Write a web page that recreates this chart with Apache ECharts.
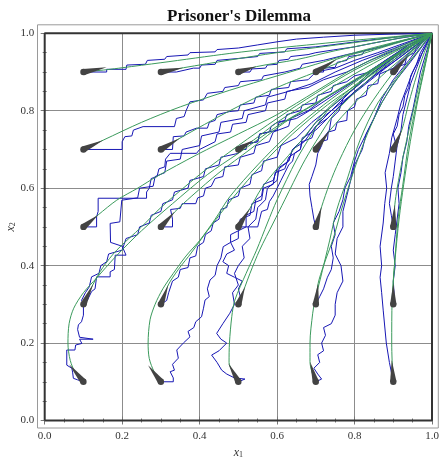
<!DOCTYPE html>
<html><head><meta charset="utf-8">
<script src="https://cdn.jsdelivr.net/npm/echarts@6/dist/echarts.min.js"></script>
<style>html,body{margin:0;padding:0;background:#fff}#c{width:440px;height:458px}</style>
</head><body><div id="c"></div>
<script>
const titleText = "Prisoner's Dilemma";
const tickValues = [0, 0.2, 0.4, 0.6, 0.8, 1.0];

// arrow tails (start points) and tips
const arrowTail = [[0.1,0.1],[0.3,0.1],[0.5,0.1],[0.7,0.1],[0.9,0.1],
  [0.1,0.3],[0.3,0.3],[0.5,0.3],[0.7,0.3],[0.9,0.3],
  [0.1,0.5],[0.3,0.5],[0.5,0.5],[0.7,0.5],[0.9,0.5],
  [0.1,0.7],[0.3,0.7],[0.5,0.7],[0.7,0.7],[0.9,0.7],
  [0.1,0.9],[0.3,0.9],[0.5,0.9],[0.7,0.9],[0.9,0.9]];
const arrowTip = [[0.063,0.145],[0.267,0.143],[0.474,0.148],[0.685,0.152],[0.896,0.156],
  [0.125,0.352],[0.319,0.35],[0.517,0.345],[0.706,0.354],[0.9,0.354],
  [0.138,0.531],[0.336,0.539],[0.53,0.548],[0.715,0.552],[0.904,0.557],
  [0.151,0.724],[0.349,0.729],[0.539,0.724],[0.737,0.75],[0.922,0.75],
  [0.16,0.912],[0.358,0.911],[0.547,0.914],[0.754,0.933],[0.939,0.944]];

// deterministic (green) trajectories
const g11 = [[0.1,0.1],[0.08,0.122],[0.066,0.155],[0.06,0.2],[0.063,0.25],[0.075,0.29],[0.1,0.33],[0.134,0.368],[0.182,0.422],[0.25,0.49],[0.33,0.56],[0.42,0.635],[0.5,0.69],[0.6,0.76],[0.7,0.82],[0.8,0.88],[0.9,0.94],[1,1]];
const g13 = [[0.1,0.3],[0.125,0.352],[0.15,0.395],[0.186,0.44],[0.25,0.5],[0.3,0.55],[0.4,0.635],[0.5,0.71],[0.6,0.78],[0.7,0.845],[0.8,0.905],[0.9,0.953],[1,1]];
const g15 = [[0.1,0.5],[0.138,0.531],[0.186,0.569],[0.24,0.6],[0.289,0.63],[0.392,0.686],[0.5,0.74],[0.6,0.79],[0.7,0.85],[0.8,0.91],[0.9,0.958],[1,1]];
const g17 = [[0.1,0.7],[0.151,0.724],[0.25,0.77],[0.35,0.81],[0.478,0.853],[0.6,0.89],[0.7,0.92],[0.8,0.95],[0.9,0.976],[1,1]];
const g19 = [[0.1,0.9],[0.16,0.906],[0.2,0.911],[0.3,0.924],[0.478,0.948],[0.6,0.962],[0.7,0.972],[0.8,0.982],[0.9,0.991],[1,1]];
const g31 = [[0.3,0.1],[0.283,0.125],[0.27,0.16],[0.267,0.2],[0.272,0.26],[0.285,0.3],[0.305,0.34],[0.332,0.38],[0.365,0.425],[0.401,0.466],[0.44,0.52],[0.478,0.578],[0.55,0.66],[0.63,0.74],[0.72,0.815],[0.81,0.88],[0.9,0.938],[1,1]];
const g33 = [[0.3,0.3],[0.319,0.35],[0.345,0.39],[0.38,0.435],[0.42,0.49],[0.49,0.58],[0.56,0.66],[0.64,0.74],[0.73,0.815],[0.82,0.877],[0.91,0.937],[1,1]];
const g35 = [[0.3,0.5],[0.336,0.539],[0.38,0.58],[0.45,0.64],[0.53,0.7],[0.62,0.77],[0.72,0.83],[0.82,0.89],[0.91,0.945],[1,1]];
const g37 = [[0.3,0.7],[0.349,0.729],[0.478,0.8],[0.6,0.86],[0.7,0.9],[0.8,0.94],[0.9,0.972],[1,1]];
const g39 = [[0.3,0.9],[0.358,0.911],[0.478,0.931],[0.6,0.95],[0.7,0.963],[0.8,0.976],[0.9,0.989],[1,1]];
const g51 = [[0.5,0.1],[0.486,0.125],[0.476,0.15],[0.477,0.2],[0.483,0.268],[0.491,0.311],[0.52,0.38],[0.547,0.44],[0.575,0.51],[0.6,0.57],[0.65,0.673],[0.68,0.724],[0.73,0.8],[0.8,0.86],[0.88,0.925],[0.95,0.97],[1,1]];
const g53 = [[0.5,0.3],[0.517,0.345],[0.53,0.38],[0.555,0.44],[0.59,0.51],[0.62,0.57],[0.665,0.66],[0.7,0.72],[0.75,0.795],[0.82,0.865],[0.9,0.935],[1,1]];
const g55 = [[0.5,0.5],[0.53,0.548],[0.56,0.6],[0.6,0.65],[0.66,0.72],[0.73,0.805],[0.81,0.873],[0.9,0.942],[1,1]];
const g57 = [[0.5,0.7],[0.539,0.724],[0.6,0.77],[0.7,0.835],[0.8,0.895],[0.9,0.95],[1,1]];
const g59 = [[0.5,0.9],[0.547,0.914],[0.65,0.932],[0.75,0.955],[0.85,0.975],[0.93,0.99],[1,1]];
const g71 = [[0.7,0.1],[0.69,0.125],[0.685,0.152],[0.685,0.2],[0.692,0.277],[0.698,0.311],[0.711,0.363],[0.736,0.466],[0.754,0.544],[0.78,0.62],[0.814,0.724],[0.86,0.82],[0.92,0.9],[0.96,0.95],[1,1]];
const g73 = [[0.7,0.3],[0.706,0.354],[0.72,0.4],[0.745,0.47],[0.765,0.54],[0.79,0.62],[0.825,0.72],[0.87,0.82],[0.93,0.91],[1,1]];
const g75 = [[0.7,0.5],[0.715,0.552],[0.735,0.61],[0.76,0.67],[0.8,0.75],[0.85,0.83],[0.91,0.91],[1,1]];
const g77 = [[0.7,0.7],[0.737,0.75],[0.8,0.82],[0.87,0.89],[0.94,0.95],[1,1]];
const g79 = [[0.7,0.9],[0.754,0.933],[0.85,0.96],[0.92,0.98],[1,1]];
const g91 = [[0.9,0.1],[0.897,0.156],[0.896,0.2],[0.897,0.311],[0.903,0.397],[0.913,0.526],[0.924,0.604],[0.941,0.724],[0.96,0.82],[0.98,0.91],[1,1]];
const g93 = [[0.9,0.3],[0.9,0.354],[0.905,0.42],[0.915,0.52],[0.927,0.61],[0.944,0.72],[0.962,0.82],[0.981,0.91],[1,1]];
const g95 = [[0.9,0.5],[0.904,0.557],[0.91,0.6],[0.925,0.68],[0.945,0.77],[0.965,0.86],[0.985,0.94],[1,1]];
const g97 = [[0.9,0.7],[0.922,0.75],[0.94,0.82],[0.96,0.89],[0.98,0.95],[1,1]];
const g99 = [[0.9,0.9],[0.939,0.944],[0.97,0.975],[1,1]];

// stochastic (blue) trajectories
const b11 = [[0.1,0.1],[0.085,0.105],[0.074,0.109],[0.072,0.125],[0.07,0.135],[0.057,0.143],[0.057,0.182],[0.078,0.182],[0.08,0.195],[0.096,0.199],[0.09,0.21],[0.125,0.21],[0.09,0.215],[0.085,0.235],[0.087,0.247],[0.095,0.255],[0.1,0.272],[0.1,0.303],[0.095,0.31],[0.105,0.33],[0.115,0.345],[0.121,0.371],[0.14,0.38],[0.145,0.4],[0.16,0.41],[0.165,0.43],[0.2,0.44],[0.21,0.47],[0.24,0.48],[0.245,0.5],[0.27,0.51],[0.275,0.53],[0.3,0.54],[0.305,0.56],[0.33,0.57],[0.335,0.59],[0.37,0.6],[0.375,0.62],[0.41,0.63],[0.415,0.65],[0.45,0.66],[0.455,0.68],[0.5,0.69],[0.505,0.71],[0.55,0.72],[0.555,0.74],[0.6,0.75],[0.605,0.77],[0.65,0.78],[0.7,0.81],[0.76,0.85],[0.82,0.89],[0.88,0.93],[0.94,0.97],[1,1]];
const b13 = [[0.1,0.3],[0.11,0.31],[0.121,0.333],[0.13,0.34],[0.134,0.371],[0.169,0.371],[0.169,0.384],[0.18,0.39],[0.182,0.427],[0.21,0.427],[0.2,0.45],[0.17,0.46],[0.169,0.509],[0.194,0.513],[0.199,0.569],[0.24,0.575],[0.245,0.6],[0.28,0.605],[0.285,0.63],[0.31,0.64],[0.315,0.67],[0.35,0.675],[0.355,0.7],[0.4,0.71],[0.405,0.735],[0.45,0.745],[0.455,0.77],[0.51,0.78],[0.515,0.8],[0.57,0.815],[0.575,0.835],[0.63,0.85],[0.69,0.87],[0.75,0.9],[0.82,0.93],[0.9,0.96],[1,1]];
const b15 = [[0.1,0.5],[0.134,0.5],[0.134,0.526],[0.138,0.54],[0.138,0.574],[0.2,0.574],[0.263,0.574],[0.263,0.59],[0.27,0.6],[0.275,0.625],[0.29,0.63],[0.295,0.65],[0.31,0.655],[0.312,0.675],[0.324,0.69],[0.392,0.69],[0.4,0.7],[0.44,0.72],[0.445,0.74],[0.48,0.745],[0.485,0.765],[0.52,0.77],[0.525,0.79],[0.57,0.8],[0.575,0.82],[0.62,0.83],[0.625,0.85],[0.68,0.86],[0.72,0.88],[0.78,0.9],[0.84,0.93],[0.9,0.955],[0.95,0.975],[1,1]];
const b17 = [[0.1,0.7],[0.2,0.7],[0.2,0.72],[0.207,0.733],[0.225,0.735],[0.229,0.75],[0.254,0.759],[0.335,0.759],[0.34,0.78],[0.36,0.785],[0.365,0.8],[0.375,0.823],[0.41,0.828],[0.42,0.845],[0.46,0.85],[0.465,0.86],[0.5,0.865],[0.505,0.875],[0.56,0.88],[0.565,0.89],[0.62,0.9],[0.66,0.91],[0.665,0.92],[0.72,0.93],[0.78,0.945],[0.85,0.96],[0.92,0.98],[1,1]];
const b19 = [[0.1,0.9],[0.16,0.9],[0.16,0.907],[0.21,0.907],[0.212,0.918],[0.26,0.92],[0.265,0.93],[0.31,0.933],[0.315,0.94],[0.37,0.944],[0.375,0.95],[0.44,0.952],[0.445,0.958],[0.5,0.962],[0.55,0.97],[0.6,0.978],[0.65,0.985],[0.72,0.99],[0.8,0.995],[0.9,0.998],[1,1]];
const b31 = [[0.3,0.1],[0.332,0.1],[0.332,0.11],[0.324,0.126],[0.335,0.13],[0.33,0.145],[0.345,0.161],[0.341,0.182],[0.358,0.2],[0.375,0.216],[0.37,0.23],[0.385,0.24],[0.39,0.255],[0.405,0.268],[0.41,0.29],[0.414,0.311],[0.425,0.32],[0.42,0.34],[0.427,0.363],[0.44,0.375],[0.445,0.4],[0.455,0.42],[0.461,0.449],[0.48,0.46],[0.48,0.48],[0.5,0.49],[0.505,0.52],[0.53,0.53],[0.535,0.56],[0.56,0.57],[0.565,0.6],[0.59,0.61],[0.595,0.64],[0.62,0.65],[0.63,0.68],[0.66,0.7],[0.665,0.73],[0.7,0.75],[0.74,0.79],[0.78,0.83],[0.83,0.87],[0.88,0.91],[0.94,0.955],[1,1]];
const b33 = [[0.3,0.3],[0.315,0.31],[0.32,0.33],[0.33,0.36],[0.345,0.37],[0.35,0.39],[0.37,0.395],[0.375,0.42],[0.39,0.425],[0.395,0.45],[0.41,0.46],[0.415,0.48],[0.43,0.49],[0.435,0.51],[0.45,0.52],[0.455,0.545],[0.47,0.55],[0.475,0.57],[0.5,0.58],[0.505,0.6],[0.53,0.61],[0.535,0.635],[0.56,0.645],[0.565,0.67],[0.6,0.68],[0.61,0.71],[0.65,0.73],[0.69,0.77],[0.74,0.81],[0.79,0.85],[0.85,0.9],[0.92,0.95],[1,1]];
const b35 = [[0.3,0.5],[0.33,0.5],[0.33,0.52],[0.325,0.545],[0.35,0.548],[0.355,0.56],[0.39,0.56],[0.395,0.575],[0.41,0.58],[0.415,0.6],[0.43,0.605],[0.44,0.625],[0.46,0.63],[0.465,0.655],[0.5,0.66],[0.505,0.68],[0.54,0.69],[0.545,0.71],[0.58,0.72],[0.59,0.745],[0.63,0.76],[0.635,0.78],[0.68,0.8],[0.72,0.83],[0.77,0.86],[0.82,0.89],[0.88,0.93],[0.94,0.965],[1,1]];
const b37 = [[0.3,0.7],[0.33,0.7],[0.332,0.733],[0.36,0.735],[0.365,0.745],[0.392,0.755],[0.42,0.755],[0.425,0.77],[0.44,0.775],[0.445,0.79],[0.478,0.798],[0.5,0.8],[0.505,0.815],[0.54,0.82],[0.545,0.835],[0.58,0.84],[0.585,0.855],[0.63,0.86],[0.635,0.875],[0.68,0.88],[0.7,0.9],[0.75,0.91],[0.8,0.93],[0.86,0.95],[0.93,0.975],[1,1]];
const b39 = [[0.3,0.9],[0.34,0.9],[0.345,0.905],[0.384,0.91],[0.4,0.91],[0.405,0.918],[0.44,0.92],[0.445,0.93],[0.5,0.935],[0.55,0.94],[0.555,0.948],[0.62,0.952],[0.625,0.96],[0.7,0.965],[0.78,0.975],[0.86,0.985],[0.93,0.993],[1,1]];
const b51 = [[0.5,0.1],[0.517,0.107],[0.49,0.11],[0.47,0.12],[0.457,0.13],[0.445,0.15],[0.431,0.169],[0.45,0.18],[0.47,0.2],[0.455,0.21],[0.444,0.225],[0.46,0.25],[0.478,0.277],[0.49,0.3],[0.485,0.33],[0.5,0.35],[0.49,0.38],[0.5,0.4],[0.515,0.42],[0.51,0.45],[0.53,0.47],[0.525,0.5],[0.545,0.52],[0.55,0.55],[0.57,0.57],[0.575,0.6],[0.6,0.62],[0.605,0.65],[0.63,0.67],[0.64,0.7],[0.67,0.73],[0.7,0.77],[0.74,0.8],[0.79,0.85],[0.85,0.9],[0.92,0.95],[1,1]];
const b53 = [[0.5,0.3],[0.505,0.32],[0.5,0.34],[0.51,0.36],[0.49,0.37],[0.47,0.38],[0.475,0.4],[0.46,0.41],[0.47,0.43],[0.49,0.44],[0.48,0.46],[0.5,0.47],[0.5,0.49],[0.52,0.5],[0.52,0.53],[0.54,0.54],[0.545,0.57],[0.56,0.58],[0.565,0.61],[0.59,0.62],[0.6,0.65],[0.63,0.67],[0.64,0.7],[0.67,0.72],[0.7,0.76],[0.74,0.8],[0.79,0.84],[0.85,0.89],[0.92,0.94],[1,1]];
const b55 = [[0.5,0.5],[0.53,0.5],[0.55,0.5],[0.555,0.52],[0.56,0.54],[0.575,0.545],[0.58,0.565],[0.59,0.58],[0.6,0.6],[0.61,0.62],[0.62,0.64],[0.63,0.66],[0.64,0.67],[0.645,0.69],[0.66,0.7],[0.665,0.72],[0.69,0.73],[0.7,0.76],[0.73,0.78],[0.76,0.81],[0.8,0.85],[0.85,0.89],[0.9,0.93],[0.95,0.97],[1,1]];
const b57 = [[0.5,0.7],[0.52,0.7],[0.522,0.715],[0.55,0.72],[0.555,0.74],[0.58,0.745],[0.585,0.76],[0.6,0.77],[0.62,0.775],[0.625,0.79],[0.66,0.8],[0.665,0.815],[0.7,0.82],[0.705,0.84],[0.74,0.85],[0.745,0.865],[0.78,0.875],[0.8,0.89],[0.84,0.9],[0.88,0.925],[0.92,0.95],[0.96,0.975],[1,1]];
const b59 = [[0.5,0.9],[0.53,0.9],[0.535,0.908],[0.57,0.91],[0.575,0.918],[0.6,0.92],[0.605,0.93],[0.63,0.933],[0.635,0.94],[0.68,0.945],[0.7,0.95],[0.745,0.957],[0.8,0.965],[0.85,0.975],[0.92,0.988],[1,1]];
const b71 = [[0.7,0.1],[0.715,0.107],[0.705,0.12],[0.695,0.135],[0.71,0.15],[0.705,0.17],[0.72,0.18],[0.715,0.2],[0.725,0.22],[0.72,0.24],[0.74,0.25],[0.75,0.272],[0.75,0.3],[0.755,0.33],[0.77,0.36],[0.765,0.4],[0.75,0.43],[0.755,0.47],[0.77,0.5],[0.77,0.54],[0.78,0.58],[0.79,0.62],[0.8,0.66],[0.82,0.7],[0.83,0.74],[0.85,0.78],[0.87,0.83],[0.9,0.88],[0.94,0.93],[0.97,0.97],[1,1]];
const b73 = [[0.7,0.3],[0.71,0.32],[0.72,0.34],[0.73,0.37],[0.74,0.39],[0.745,0.42],[0.74,0.45],[0.75,0.48],[0.745,0.51],[0.76,0.54],[0.77,0.57],[0.775,0.6],[0.79,0.63],[0.8,0.67],[0.81,0.7],[0.83,0.74],[0.85,0.78],[0.87,0.82],[0.9,0.87],[0.94,0.92],[0.97,0.96],[1,1]];
const b75 = [[0.7,0.5],[0.695,0.52],[0.69,0.55],[0.685,0.58],[0.683,0.61],[0.69,0.63],[0.7,0.66],[0.705,0.69],[0.715,0.71],[0.72,0.73],[0.735,0.75],[0.74,0.78],[0.76,0.8],[0.77,0.83],[0.8,0.86],[0.84,0.9],[0.88,0.93],[0.94,0.97],[1,1]];
const b77 = [[0.7,0.7],[0.71,0.7],[0.712,0.72],[0.73,0.725],[0.732,0.745],[0.75,0.75],[0.755,0.77],[0.78,0.775],[0.782,0.8],[0.8,0.81],[0.805,0.83],[0.83,0.84],[0.835,0.865],[0.86,0.87],[0.865,0.895],[0.9,0.91],[0.93,0.94],[0.96,0.965],[1,1]];
const b79 = [[0.7,0.9],[0.72,0.9],[0.72,0.91],[0.75,0.912],[0.755,0.925],[0.78,0.93],[0.785,0.94],[0.82,0.945],[0.825,0.955],[0.87,0.965],[0.93,0.982],[1,1]];
const b91 = [[0.9,0.1],[0.89,0.15],[0.882,0.2],[0.874,0.285],[0.87,0.33],[0.866,0.37],[0.87,0.4],[0.866,0.45],[0.874,0.51],[0.878,0.56],[0.883,0.6],[0.879,0.64],[0.89,0.69],[0.896,0.73],[0.91,0.78],[0.92,0.82],[0.935,0.86],[0.95,0.9],[0.97,0.94],[0.985,0.97],[1,1]];
const b93 = [[0.9,0.3],[0.902,0.33],[0.9,0.36],[0.905,0.4],[0.9,0.44],[0.905,0.48],[0.91,0.52],[0.915,0.56],[0.912,0.6],[0.92,0.64],[0.925,0.68],[0.935,0.72],[0.94,0.76],[0.95,0.8],[0.96,0.85],[0.97,0.9],[0.985,0.95],[1,1]];
const b95 = [[0.9,0.5],[0.895,0.53],[0.89,0.56],[0.895,0.6],[0.9,0.63],[0.905,0.67],[0.91,0.71],[0.92,0.75],[0.925,0.79],[0.935,0.83],[0.945,0.87],[0.96,0.91],[0.975,0.95],[0.99,0.98],[1,1]];
const b97 = [[0.9,0.7],[0.905,0.72],[0.9,0.74],[0.91,0.76],[0.915,0.79],[0.925,0.81],[0.93,0.84],[0.94,0.86],[0.945,0.89],[0.96,0.92],[0.97,0.95],[0.985,0.975],[1,1]];
const b99 = [[0.9,0.9],[0.91,0.9],[0.915,0.915],[0.93,0.92],[0.935,0.94],[0.955,0.95],[0.96,0.965],[0.98,0.98],[1,1]];

const greenPaths = [g11,g13,g15,g17,g19,g31,g33,g35,g37,g39,g51,g53,g55,g57,g59,g71,g73,g75,g77,g79,g91,g93,g95,g97,g99];
const bluePaths = [b11,b13,b15,b17,b19,b31,b33,b35,b37,b39,b51,b53,b55,b57,b59,b71,b73,b75,b77,b79,b91,b93,b95,b97,b99];

const SERIF = "'Liberation Serif','DejaVu Serif',serif";
const chart = echarts.init(document.getElementById('c'), null, {renderer:'canvas'});

const axisCommon = {
  type:'value', min:0, max:1, interval:0.2,
  axisLine:{show:false},
  axisTick:{show:true, inside:true, length:4, lineStyle:{color:'#777', width:1}},
  minorTick:{show:true, splitNumber:4, length:2, lineStyle:{color:'#777', width:1}},
  splitLine:{show:false}
};
const nameRich = {
  a:{fontFamily:SERIF, fontStyle:'italic', fontSize:12, color:'#333'},
  b:{fontFamily:SERIF, fontSize:8, color:'#333', padding:[5,0,0,0]}
};

const series = [];
series.push({type:'line', data:[[0,0],[1,0],[1,1],[0,1],[0,0]], symbol:'none', clip:false, silent:true,
  lineStyle:{color:'#333', width:2}, z:1});
bluePaths.forEach(d => series.push({type:'line', data:d, symbol:'none', silent:true, lineStyle:{color:'#1717b4', width:1}, z:2}));
greenPaths.forEach(d => series.push({type:'line', data:d, symbol:'none', smooth:0.3, silent:true, lineStyle:{color:'#3b9a5c', width:1}, z:3}));
series.push({
  type:'custom', z:4, silent:true,
  data: arrowTail.map((t,i) => [t[0], t[1], arrowTip[i][0], arrowTip[i][1]]),
  renderItem: function(params, api){
    const t = api.coord([api.value(0), api.value(1)]);
    const h = api.coord([api.value(2), api.value(3)]);
    const dx = h[0]-t[0], dy = h[1]-t[1];
    const L = Math.hypot(dx, dy) || 1;
    const nx = -dy/L, ny = dx/L, w = 3.2;
    return {type:'group', children:[
      {type:'polygon', shape:{points:[[t[0]+nx*w, t[1]+ny*w],[h[0],h[1]],[t[0]-nx*w, t[1]-ny*w]]}, style:{fill:'#434343'}},
      {type:'circle', shape:{cx:t[0], cy:t[1], r:w}, style:{fill:'#434343'}}
    ]};
  }
});

chart.setOption({
  animation:false,
  backgroundColor:'#fff',
  title:{text:titleText, left:234, top:3, textAlign:'center',
    textStyle:{fontFamily:SERIF, fontWeight:'bold', fontSize:17, color:'#111'}},
  grid:{left:44.7, top:33.3, width:387.3, height:387.2, containLabel:false, outerBoundsMode:'none'},
  graphic:[{type:'rect', shape:{x:37.5, y:24.8, width:400.8, height:403.2}, style:{fill:'none', stroke:'#9a9a9a', lineWidth:1}, silent:true, z:-1}],
  xAxis:[
    Object.assign({}, axisCommon, {position:'bottom', offset:7.5,
      splitLine:{show:true, lineStyle:{color:'#8c8c8c', width:1}},
      axisLabel:{show:true, margin:3, fontFamily:SERIF, fontSize:11, color:'#333', formatter:v => v.toFixed(1)},
      name:'{a|x}{b|1}', nameLocation:'middle', nameGap:18,
      nameTextStyle:{rich:nameRich}
    }),
    Object.assign({}, axisCommon, {position:'top', offset:8.5, axisLabel:{show:false}})
  ],
  yAxis:[
    Object.assign({}, axisCommon, {position:'left', offset:7.4,
      splitLine:{show:true, lineStyle:{color:'#8c8c8c', width:1}},
      axisLabel:{show:true, margin:3, fontFamily:SERIF, fontSize:11, color:'#333', formatter:v => v.toFixed(1)},
      name:'{a|x}{b|2}', nameLocation:'middle', nameGap:20, nameRotate:90, nameMoveOverlap:false,
      nameTextStyle:{rich:nameRich}
    }),
    Object.assign({}, axisCommon, {position:'right', offset:6.3, axisLabel:{show:false}})
  ],
  series: series
});
</script></body></html>
